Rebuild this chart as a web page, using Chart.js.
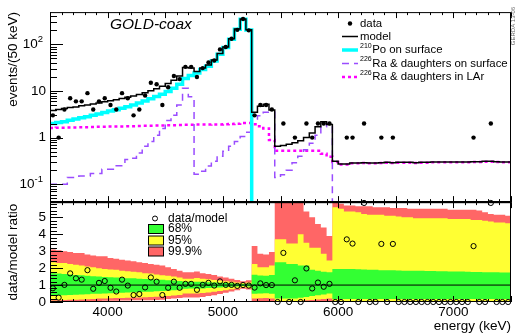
<!DOCTYPE html>
<html>
<head>
<meta charset="utf-8">
<script src="https://cdn.jsdelivr.net/npm/chart.js@4.4.1/dist/chart.umd.min.js"></script>
<style>
  html, body { margin: 0; padding: 0; background: #fff; }
</style>
</head>
<body>
<canvas id="chart" width="516" height="334"></canvas>
<script>
// binning of the spectrum
const binLow = 3500;
const binWidth = 50;

// events per bin
const dataCounts = [
  3, 1, 4, 7, 6, 6, 9, 4, 6, 7, 5, 4, 9, 7, 3, 4, 8, 15, 14, 5, 12, 21, 18, 33,
  33, 20, 31, 41, 45, 78, 88, 132, 205, 350, 200,
  3, 5, 5, 4,
  0, 2, 0, 1, 0, 2, 1, 2, 2, 2,
  0, 0, 1, 1, 0, 2, 0, 0, 1, 0, 1, 0, 0, 0, 0, 0, 0, 0, 0, 0, 0, 0, 0, 0, 1, 0, 0, 2, 0, 0, 0
];
// full model
const modelSum = [
  3.8, 4.0, 4.2, 4.4, 4.55, 4.8, 5.0, 5.25, 5.55, 5.9, 6.2, 6.5, 6.9, 7.3, 7.8, 8.4, 9.2, 10.1, 11.2, 12.6, 14.5, 17, 21,
  32, 31, 26.3, 31, 36, 46, 64, 88, 132, 215, 350, 207,
  3.5, 4.7, 5.2, 3.9,
  0.65, 0.68, 0.72, 0.78, 0.86, 1.0, 1.25, 1.7, 2.2, 1.9,
  0.31, 0.27, 0.27, 0.285, 0.285, 0.29, 0.285, 0.285, 0.29, 0.295, 0.29, 0.295, 0.295, 0.295, 0.29, 0.295,
  0.295, 0.3, 0.3, 0.3, 0.3, 0.3, 0.3, 0.3, 0.305, 0.305, 0.31, 0.31, 0.305, 0.3, 0.3
];
// 210Po on surface
const po210Surface = [
  2.0, 2.1, 2.2, 2.35, 2.5, 2.65, 2.8, 3.0, 3.2, 3.45, 3.7, 3.95, 4.25, 4.6, 5.0, 5.5, 6.1, 6.8, 7.6, 8.5, 9.7, 11.5, 14,
  18.6, 21.6, 24.2, 29, 33.8, 43.8, 61.7, 85.5, 129, 212, 347, 204,
  0.001, null, null, null,
  null, null, null, null, null, null, null, null, null, null,
  null, null, null, null, null, null, null, null, null, null, null, null, null, null, null, null,
  null, null, null, null, null, null, null, null, null, null, null, null, null, null, null
];
// 226Ra & daughters on surface
const ra226Surface = [
  0.1, 0.1, 0.1, 0.14, 0.14, 0.15, 0.15, 0.17, 0.17, 0.21, 0.21, 0.25, 0.25, 0.34, 0.36, 0.47, 0.65, 0.82, 1.13, 1.57, 2.34, 3.0, 5.0,
  11.5, 7.5, 0.164, 0.19, 0.246, 0.31, 0.4, 0.51, 0.65, 0.82, 1.05, 1.3,
  2.5, 2.95, 3.5, 3.5,
  0.14, 0.16, 0.2, 0.29, 0.4, 0.55, 0.76, 1.13, 1.7, 2.0,
  0.001, null, null, null, null, null, null, null, null, null, null, null, null, null, null, null,
  null, null, null, null, null, null, null, null, null, null, null, null, null, null, null
];
// 226Ra & daughters in LAr
const ra226LAr = [
  1.6, 1.62, 1.63, 1.64, 1.65, 1.66, 1.67, 1.68, 1.7, 1.7, 1.72, 1.73, 1.74, 1.75, 1.76, 1.78, 1.79, 1.8, 1.81, 1.82, 1.84, 1.85, 1.86,
  1.88, 1.88, 1.9, 1.9, 1.91, 1.92, 1.92, 1.93, 1.95, 1.98, 2.05, 2.05,
  1.93, 1.75, 1.57, 0.89,
  0.52, 0.52, 0.52, 0.52, 0.52, 0.52, 0.52, 0.52, 0.45, 0.39,
  0.3, 0.265, 0.265, 0.28, 0.28, 0.285, 0.28, 0.28, 0.285, 0.29, 0.285, 0.29, 0.29, 0.29, 0.285, 0.29,
  0.29, 0.295, 0.295, 0.295, 0.295, 0.295, 0.295, 0.295, 0.3, 0.3, 0.305, 0.305, 0.3, 0.295, 0.295
];
// data/model
const ratioValues = [
  0.81, 0.26, 1.01, 1.69, 1.4, 1.32, 1.88, 0.78, 1.13, 1.24, 0.84, 0.62, 1.32, 0.97, 0.41, 0.47, 0.86, 1.45, 1.2, 0.41, 0.84, 1.2, 0.84,
  1.07, 1.07, 0.72, 1.01, 1.13, 0.97, 1.22, 1.01, 1.01, 0.95, 1.0, 0.97,
  0.85, 1.1, 1.0, 1.0,
  0, 2.9, 0, 1.28, 0, 1.98, 0.8, 1.15, 0.9, 1.07,
  0, 0, 3.7, 3.45, 0, 5.85, 0, 0, 3.43, 0, 3.43, 0, 0, 0, 0, 0,
  0, 0, 0, 0, 0, 0, 0, 0, 3.3, 0, 0, 5.85, 0, 0, 0
];
// 99.9% band
const band999Hi = [
  3.1, 3.05, 3.0, 2.95, 2.9, 2.9, 2.8, 2.75, 2.7, 2.7, 2.6, 2.55, 2.5, 2.45, 2.4, 2.35, 2.3, 2.25, 2.2, 2.15, 2.05, 1.95, 1.85,
  1.75, 1.75, 1.8, 1.7, 1.65, 1.6, 1.5, 1.45, 1.38, 1.3, 1.22, 1.28,
  3.3, 2.85, 2.8, 2.95,
  5.9, 5.9, 5.9, 5.9, 5.9, 5.35, 5.0, 4.6, 4.4, 3.9,
  5.85, 5.8, 5.7, 5.7, 5.65, 5.65, 5.65, 5.6, 5.6, 5.6, 5.55, 5.55, 5.55, 5.5, 5.5, 5.5,
  5.5, 5.5, 5.5, 5.5, 5.45, 5.45, 5.45, 5.45, 5.45, 5.4, 5.3, 5.2, 5.15, 5.15, 5.1
];
const band999Lo = [
  0, 0, 0.01, 0.02, 0.03, 0.04, 0.05, 0.06, 0.06, 0.07, 0.08, 0.08, 0.09, 0.09, 0.1, 0.1, 0.1, 0.1, 0.12, 0.14, 0.17, 0.2, 0.23,
  0.26, 0.27, 0.26, 0.3, 0.35, 0.4, 0.47, 0.55, 0.62, 0.7, 0.78, 0.74,
  0, 0, 0, 0,
  0, 0, 0, 0, 0, 0, 0, 0, 0, 0,
  0, 0, 0, 0, 0, 0, 0, 0, 0, 0, 0, 0, 0, 0, 0, 0,
  0, 0, 0, 0, 0, 0, 0, 0, 0, 0, 0, 0, 0, 0, 0
];
// 95% band
const band95Hi = [
  2.35, 2.3, 2.3, 2.25, 2.2, 2.15, 2.1, 2.05, 2.0, 1.95, 1.92, 1.9, 1.85, 1.82, 1.78, 1.75, 1.7, 1.68, 1.62, 1.58, 1.55, 1.5, 1.45,
  1.38, 1.38, 1.42, 1.38, 1.35, 1.3, 1.27, 1.23, 1.2, 1.15, 1.12, 1.15,
  2.25, 2.05, 2.05, 2.15,
  3.7, 3.7, 3.45, 3.45, 4.0, 3.5, 3.2, 3.2, 2.85, 2.45,
  5.6, 5.5, 5.35, 5.35, 5.3, 5.2, 5.15, 5.15, 5.15, 5.1, 5.1, 5.05, 5.0, 5.0, 4.95, 4.95,
  4.95, 4.95, 4.95, 4.95, 4.9, 4.9, 4.9, 4.9, 4.85, 4.85, 4.8, 4.75, 4.7, 4.7, 4.65
];
const band95Lo = [
  0.1, 0.1, 0.12, 0.13, 0.14, 0.15, 0.16, 0.18, 0.2, 0.21, 0.22, 0.23, 0.24, 0.25, 0.26, 0.27, 0.28, 0.29, 0.31, 0.33, 0.36, 0.39, 0.42,
  0.5, 0.5, 0.5, 0.53, 0.56, 0.6, 0.65, 0.7, 0.75, 0.8, 0.86, 0.82,
  0.2, 0.22, 0.24, 0.2,
  0.06, 0.06, 0.06, 0.06, 0.08, 0.1, 0.12, 0.15, 0.18, 0.2,
  0.06, 0.06, 0.06, 0.06, 0.06, 0.06, 0.06, 0.06, 0.06, 0.06, 0.06, 0.06, 0.06, 0.06, 0.06, 0.06,
  0.06, 0.06, 0.06, 0.06, 0.06, 0.06, 0.06, 0.06, 0.06, 0.06, 0.06, 0.06, 0.06, 0.06, 0.06
];
// 68% band
const band68Hi = [
  1.7, 1.68, 1.65, 1.62, 1.6, 1.58, 1.55, 1.52, 1.5, 1.48, 1.46, 1.45, 1.43, 1.41, 1.4, 1.38, 1.36, 1.35, 1.33, 1.31, 1.29, 1.27, 1.24,
  1.2, 1.19, 1.2, 1.19, 1.17, 1.15, 1.13, 1.12, 1.1, 1.08, 1.06, 1.08,
  1.61, 1.57, 1.55, 1.6,
  2.35, 2.35, 2.25, 2.25, 2.15, 2.15, 1.9, 1.85, 1.78, 1.75,
  1.95, 1.95, 1.95, 1.95, 1.93, 1.92, 1.9, 1.9, 1.88, 1.88, 1.87, 1.86, 1.85, 1.85, 1.84, 1.84,
  1.83, 1.83, 1.82, 1.82, 1.8, 1.8, 1.8, 1.78, 1.77, 1.77, 1.76, 1.75, 1.75, 1.74, 1.74
];
const band68Lo = [
  0.38, 0.38, 0.4, 0.42, 0.43, 0.45, 0.46, 0.48, 0.49, 0.5, 0.52, 0.53, 0.55, 0.56, 0.57, 0.58, 0.6, 0.61, 0.63, 0.65, 0.67, 0.7, 0.73,
  0.78, 0.79, 0.78, 0.8, 0.82, 0.84, 0.86, 0.88, 0.9, 0.92, 0.94, 0.92,
  0.48, 0.5, 0.52, 0.48,
  0.2, 0.2, 0.2, 0.2, 0.25, 0.3, 0.35, 0.4, 0.45, 0.5,
  0.18, 0.18, 0.18, 0.18, 0.18, 0.18, 0.18, 0.18, 0.18, 0.18, 0.18, 0.18, 0.18, 0.18, 0.18, 0.18,
  0.18, 0.18, 0.18, 0.18, 0.18, 0.18, 0.18, 0.18, 0.18, 0.18, 0.18, 0.18, 0.18, 0.18, 0.18
];

// axis tick labels
const xTickLabels = [4000, 5000, 6000, 7000];
const ratioTickLabels = [0, 1, 2, 3, 4, 5];
const logTickLabels = [0.1, 1, 10, 100];

const FONT = '"Liberation Sans", Arial, Helvetica, sans-serif';
Chart.defaults.font.family = FONT;
Chart.defaults.color = '#000';

// bin edges / centres from the binning
const edges = modelSum.map((_, i) => binLow + i * binWidth).concat(binLow + modelSum.length * binWidth);
const centers = modelSum.map((_, i) => binLow + (i + 0.5) * binWidth);

// turn bin contents into a step outline (left and right edge of every bin)
function histPoints(values) {
  const pts = [];
  values.forEach((v, i) => {
    if (v === null) { pts.push({ x: centers[i], y: null }); return; }
    pts.push({ x: edges[i], y: v }, { x: edges[i + 1], y: v });
  });
  return pts;
}

const datasets = [];
const noLine = 'rgba(0,0,0,0)';

function pushBand(hi, lo, color, order) {
  const loIndex = datasets.length + 1;
  datasets.push({ yAxisID: 'yr', data: histPoints(hi), borderColor: noLine, borderWidth: 0, pointRadius: 0,
    backgroundColor: color, fill: loIndex, order });
  datasets.push({ yAxisID: 'yr', data: histPoints(lo), borderColor: noLine, borderWidth: 0, pointRadius: 0,
    fill: false, order });
}

// lower panel
pushBand(band999Hi, band999Lo, '#ff6666', 30);
pushBand(band95Hi, band95Lo, '#ffff33', 29);
pushBand(band68Hi, band68Lo, '#33ff33', 28);
datasets.push({
  yAxisID: 'yr', order: 20, pointRadius: 0, borderColor: '#000', borderWidth: 1,
  data: [{ x: edges[0], y: 1 }, { x: edges[edges.length - 1], y: 1 }]
});
datasets.push({
  yAxisID: 'yr', order: 10, showLine: false, clip: false,
  data: ratioValues.map((r, i) => ({ x: centers[i], y: r })),
  pointRadius: 2.6, pointBorderWidth: 1, pointBorderColor: '#000', pointBackgroundColor: 'rgba(0,0,0,0)'
});

// upper panel
datasets.push({
  yAxisID: 'y', order: 9, data: histPoints(ra226LAr), pointRadius: 0,
  borderColor: '#ff00ff', borderWidth: 2.5, borderDash: [3, 3]
});
datasets.push({
  yAxisID: 'y', order: 8, data: histPoints(ra226Surface), pointRadius: 0,
  borderColor: '#9a4dff', borderWidth: 1.5, borderDash: [7, 5]
});
datasets.push({
  yAxisID: 'y', order: 7, data: histPoints(po210Surface), pointRadius: 0,
  borderColor: '#00ffff', borderWidth: 3.5
});
datasets.push({
  yAxisID: 'y', order: 6, data: histPoints(modelSum), pointRadius: 0,
  borderColor: '#000', borderWidth: 1.5
});
datasets.push({
  yAxisID: 'y', order: 1, showLine: false,
  data: dataCounts.map((c, i) => (c > 0 ? { x: centers[i], y: c } : null)).filter(p => p),
  pointRadius: 2.2, pointBorderWidth: 0, pointBackgroundColor: '#000'
});

// ROOT-like frames, inward ticks, log labels, legends and captions
const rootDecor = {
  id: 'rootDecor',
  afterDatasetsDraw(chart) {
    const { ctx, chartArea } = chart;
    const xs = chart.scales.x, yt = chart.scales.y, yb = chart.scales.yr;
    const L = chartArea.left, R = chartArea.right;
    ctx.save();
    ctx.strokeStyle = '#000';
    ctx.lineWidth = 1;
    ctx.beginPath();
    for (let e = xs.min; e <= xs.max; e += 100) {
      const px = Math.round(xs.getPixelForValue(e)) + 0.5;
      const len = e % 500 === 0 ? 6 : 3;
      for (const s of [yt, yb]) {
        ctx.moveTo(px, s.top); ctx.lineTo(px, s.top + len);
        ctx.moveTo(px, s.bottom); ctx.lineTo(px, s.bottom - len);
      }
    }
    for (let d = -2; d <= 2; d++) {
      for (let m = 1; m <= 9; m++) {
        const v = m * Math.pow(10, d);
        if (v < yt.min || v > yt.max) continue;
        const py = Math.round(yt.getPixelForValue(v)) + 0.5;
        ctx.moveTo(L, py); ctx.lineTo(L + (m === 1 ? 13 : 7), py);
      }
    }
    for (let k = 0; k * 0.2 <= yb.max; k++) {
      const py = Math.round(yb.getPixelForValue(k * 0.2)) + 0.5;
      ctx.moveTo(L, py); ctx.lineTo(L + (k % 5 === 0 ? 13 : 7), py);
    }
    ctx.stroke();
    ctx.strokeRect(L + 0.5, yt.top + 0.5, R - L - 1, yt.bottom - yt.top);
    ctx.strokeRect(L + 0.5, yb.top + 0.5, R - L - 1, yb.bottom - yb.top - 1);
    ctx.lineWidth = 2;
    ctx.beginPath();
    ctx.moveTo(L, yt.bottom); ctx.lineTo(R, yt.bottom);
    ctx.stroke();
    ctx.restore();
  },
  afterDraw(chart) {
    const { ctx } = chart;
    const yt = chart.scales.y;
    ctx.save();
    ctx.fillStyle = '#000';
    ctx.textBaseline = 'middle';

    // log axis labels with superscripts
    logTickLabels.forEach(v => {
      const py = yt.getPixelForValue(v);
      const exp = Math.round(Math.log10(v));
      ctx.textAlign = 'right';
      if (exp === 0 || exp === 1) {
        ctx.font = '13.5px ' + FONT;
        ctx.fillText(exp === 0 ? '1' : '10', 46, py);
      } else {
        ctx.font = '9.5px ' + FONT;
        const sup = String(exp);
        const w = ctx.measureText(sup).width;
        ctx.fillText(sup, 43, py - 5);
        ctx.font = '13.5px ' + FONT;
        ctx.fillText('10', 43 - w, py);
      }
    });

    // detector name
    ctx.textAlign = 'left';
    ctx.font = 'italic 15.5px ' + FONT;
    ctx.fillText('GOLD-coax', 110, 25);

    // upper legend
    const lx0 = 342, lx1 = 358, tx = 360;
    const rows = [23.5, 36.5, 50, 63.5, 77];
    ctx.font = '11.4px ' + FONT;
    ctx.beginPath(); ctx.arc(350, rows[0], 2.2, 0, Math.PI * 2); ctx.fill();
    ctx.fillText('data', tx, rows[0]);
    const seg = (y, color, width, dash) => {
      ctx.save();
      ctx.strokeStyle = color; ctx.lineWidth = width; ctx.setLineDash(dash);
      ctx.beginPath(); ctx.moveTo(lx0, y); ctx.lineTo(lx1, y); ctx.stroke();
      ctx.restore();
    };
    seg(rows[1], '#000', 1.5, []);
    ctx.fillText('model', tx, rows[1]);
    seg(rows[2], '#00ffff', 3.5, []);
    seg(rows[3], '#9a4dff', 1.5, [7, 5]);
    seg(rows[4], '#ff00ff', 2.5, [3, 3]);
    const supText = (y, sup, rest) => {
      ctx.font = '7px ' + FONT;
      ctx.fillText(sup, tx, y - 4);
      const w = ctx.measureText(sup).width;
      ctx.font = '11.4px ' + FONT;
      ctx.fillText(rest, tx + w + 0.5, y);
    };
    supText(rows[2], '210', 'Po on surface');
    supText(rows[3], '226', 'Ra & daughters on surface');
    supText(rows[4], '226', 'Ra & daughters in LAr');

    // lower legend
    ctx.font = '12px ' + FONT;
    ctx.lineWidth = 1;
    ctx.strokeStyle = '#000';
    ctx.beginPath(); ctx.arc(155, 218.5, 2.5, 0, Math.PI * 2); ctx.stroke();
    ctx.fillText('data/model', 168, 218.5);
    [['#33ff33', '68%', 229], ['#ffff33', '95%', 240.5], ['#ff6666', '99.9%', 251.5]].forEach(([c, t, y]) => {
      ctx.fillStyle = c;
      ctx.fillRect(148.5, y - 4.5, 15, 9);
      ctx.strokeRect(148.5, y - 4.5, 15, 9);
      ctx.fillStyle = '#000';
      ctx.fillText(t, 168, y);
    });

    // stamp
    ctx.save();
    ctx.translate(513, 26);
    ctx.rotate(-Math.PI / 2);
    ctx.font = '6px ' + FONT;
    ctx.fillStyle = '#666';
    ctx.textAlign = 'center';
    ctx.fillText('GERDA 13-06', 0, 0);
    ctx.restore();
    ctx.restore();
  }
};

new Chart(document.getElementById('chart'), {
  type: 'line',
  data: { datasets },
  options: {
    responsive: false,
    animation: false,
    devicePixelRatio: 1,
    layout: { padding: { top: 6, right: 1, bottom: 0, left: 0 } },
    plugins: { legend: { display: false }, tooltip: { enabled: false } },
    elements: { line: { tension: 0 } },
    scales: {
      x: {
        type: 'linear', position: 'bottom', min: edges[0], max: edges[edges.length - 1],
        grid: { display: false, drawTicks: false }, border: { display: false },
        afterBuildTicks: s => { s.ticks = xTickLabels.map(v => ({ value: v })); },
        afterFit: s => { s.height = 32; },
        ticks: { padding: 2, maxRotation: 0, autoSkip: false, font: { size: 13.5 }, callback: v => String(v) },
        title: { display: true, text: 'energy (keV)', align: 'end', font: { size: 13.5 }, padding: { top: 0, bottom: 0 } }
      },
      yr: {
        type: 'linear', position: 'left', stack: 'panels', stackWeight: 102, min: 0, max: 5.9,
        grid: { display: false, drawTicks: false }, border: { display: false },
        afterBuildTicks: s => { s.ticks = ratioTickLabels.map(v => ({ value: v })); },
        afterFit: s => { s.width = 50; },
        ticks: { padding: 4, autoSkip: false, font: { size: 13.5 }, callback: v => String(v) },
        title: { display: true, text: 'data/model ratio', font: { size: 13.5 }, padding: { top: 5, bottom: 0 } }
      },
      y: {
        type: 'logarithmic', position: 'left', stack: 'panels', stackWeight: 194, min: 0.0413, max: 493,
        grid: { display: false, drawTicks: false }, border: { display: false },
        afterFit: s => { s.width = 50; },
        ticks: { display: false },
        title: { display: true, text: 'events/(50 keV)', align: 'end', font: { size: 13.5 }, padding: { top: 5, bottom: 0 } }
      }
    }
  },
  plugins: [rootDecor]
});
</script>
</body>
</html>
